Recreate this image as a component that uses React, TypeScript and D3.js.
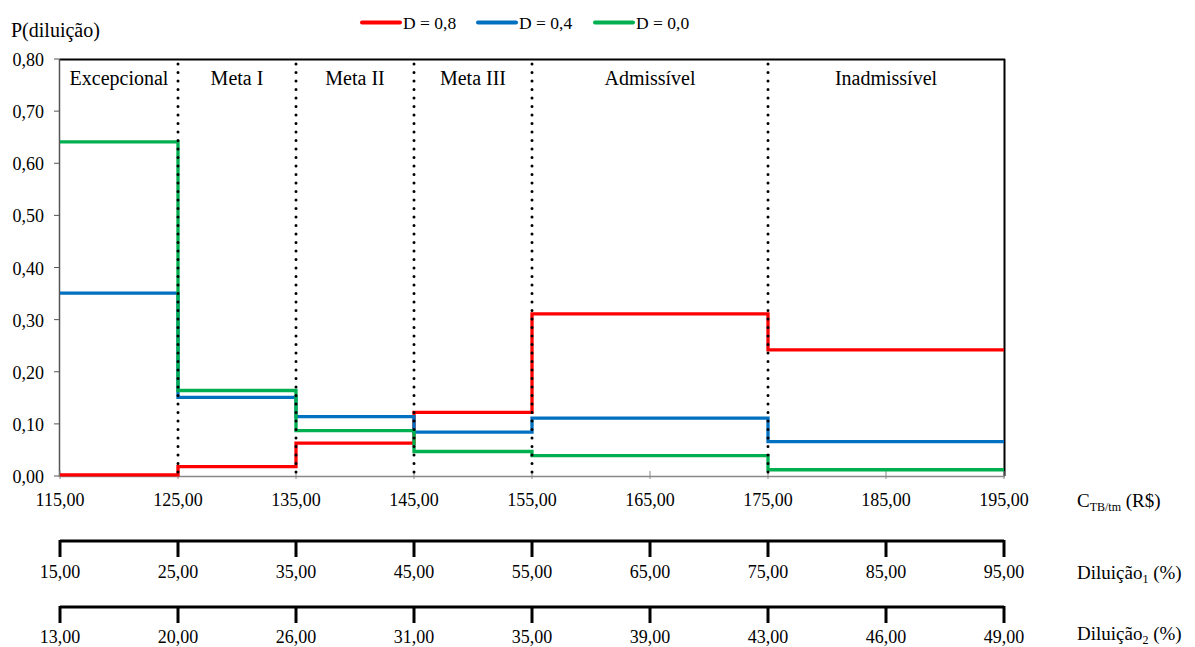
import React from "react";
import * as d3 from "d3";

const boundaries = [115, 125, 135, 145, 155, 175, 195];
const regions = ["Excepcional", "Meta I", "Meta II", "Meta III", "Admissível", "Inadmissível"];
const seriesNames = ["D = 0,8", "D = 0,4", "D = 0,0"];
const seriesColors = ["#FF0000", "#0070C0", "#00B050"];
const valuesD08 = [0.002, 0.018, 0.063, 0.122, 0.311, 0.242];
const valuesD04 = [0.351, 0.151, 0.114, 0.084, 0.111, 0.066];
const valuesD00 = [0.641, 0.164, 0.087, 0.047, 0.039, 0.012];
const xTicks = [115, 125, 135, 145, 155, 165, 175, 185, 195];
const yTicks = [0, 0.1, 0.2, 0.3, 0.4, 0.5, 0.6, 0.7, 0.8];
const dil1Labels = ["15,00", "25,00", "35,00", "45,00", "55,00", "65,00", "75,00", "85,00", "95,00"];
const dil2Labels = ["13,00", "20,00", "26,00", "31,00", "35,00", "39,00", "43,00", "46,00", "49,00"];
const dividers = [125, 135, 145, 155, 175];

const W = 1195;
const H = 647;
const font = '"Liberation Serif", "Times New Roman", serif';

export default function App() {
  const x = d3.scaleLinear().domain([115, 195]).range([60, 1004]);
  const y = d3.scaleLinear().domain([0, 0.8]).range([476, 59]);
  const fmt = (v: number) => v.toFixed(2).replace(".", ",");
  const allSeries = [valuesD08, valuesD04, valuesD00];
  const line = d3
    .line<[number, number]>()
    .x((d) => x(d[0]))
    .y((d) => y(d[1]))
    .curve(d3.curveStepAfter);
  const pathFor = (vals: number[]) => {
    const pts: [number, number][] = vals.map((v, i) => [boundaries[i], v]);
    pts.push([boundaries[boundaries.length - 1], vals[vals.length - 1]]);
    return line(pts) || "";
  };
  const legendX = [362, 478, 595];

  return (
    <svg width={W} height={H} style={{ position: "absolute", left: 0, top: 0, background: "#fff", fontFamily: font }}>
      {/* Y title */}
      <text x={11} y={37} fontSize={20}>P(diluição)</text>

      {/* Legend */}
      {seriesNames.map((n, i) => (
        <g key={n}>
          <line x1={legendX[i]} x2={legendX[i] + 38} y1={22.5} y2={22.5} stroke={seriesColors[i]} strokeWidth={4} strokeLinecap="round" />
          <text x={legendX[i] + 41} y={29} fontSize={17.5}>{n}</text>
        </g>
      ))}

      {/* frame top/right */}
      <line x1={60} x2={1005} y1={59.5} y2={59.5} stroke="#000" strokeWidth={2} />
      <line x1={1004.5} x2={1004.5} y1={59} y2={476} stroke="#000" strokeWidth={2} />

      {/* Y axis */}
      <line x1={59.5} x2={59.5} y1={59} y2={477} stroke="#555" strokeWidth={1.5} />
      {yTicks.map((t) => (
        <g key={t}>
          <line x1={54} x2={60} y1={y(t)} y2={y(t)} stroke="#555" strokeWidth={1} />
          <text x={44} y={y(t) + 7} fontSize={18} textAnchor="end">{fmt(t)}</text>
        </g>
      ))}

      {/* X axis */}
      <line x1={59} x2={1005} y1={476.5} y2={476.5} stroke="#888" strokeWidth={1.5} />
      {xTicks.map((t) => (
        <g key={t}>
          <line x1={x(t)} x2={x(t)} y1={471} y2={479} stroke="#888" strokeWidth={1} />
          <text x={x(t)} y={506} fontSize={18} textAnchor="middle">{fmt(t)}</text>
        </g>
      ))}
      <text x={1077} y={507} fontSize={19}>
        C<tspan fontSize={12} dy={4}>TB/tm</tspan>
        <tspan dy={-4}> (R$)</tspan>
      </text>

      {/* Region labels */}
      {regions.map((r, i) => (
        <text key={r} x={(x(boundaries[i]) + x(boundaries[i + 1])) / 2} y={85} fontSize={20} textAnchor="middle">{r}</text>
      ))}

      {/* Series */}
      {allSeries.map((vals, i) => (
        <path key={i} d={pathFor(vals)} fill="none" stroke={seriesColors[i]} strokeWidth={3.3} />
      ))}

      {/* Dotted dividers */}
      {dividers.map((d) => (
        <line key={d} x1={x(d)} x2={x(d)} y1={64} y2={476} stroke="#000" strokeWidth={3} strokeLinecap="round" strokeDasharray="0 8.5" />
      ))}

      {/* Diluição1 axis */}
      <line x1={60} x2={1004} y1={541} y2={541} stroke="#000" strokeWidth={3} />
      {xTicks.map((t, i) => (
        <g key={"d1" + t}>
          <line x1={x(t)} x2={x(t)} y1={540} y2={557} stroke="#000" strokeWidth={3} />
          <text x={x(t)} y={578} fontSize={18} textAnchor="middle">{dil1Labels[i]}</text>
        </g>
      ))}
      <text x={1077} y={579} fontSize={19}>
        Diluição<tspan fontSize={12} dy={4}>1</tspan>
        <tspan dy={-4}> (%)</tspan>
      </text>

      {/* Diluição2 axis */}
      <line x1={60} x2={1004} y1={607} y2={607} stroke="#000" strokeWidth={3} />
      {xTicks.map((t, i) => (
        <g key={"d2" + t}>
          <line x1={x(t)} x2={x(t)} y1={606} y2={623} stroke="#000" strokeWidth={3} />
          <text x={x(t)} y={643} fontSize={18} textAnchor="middle">{dil2Labels[i]}</text>
        </g>
      ))}
      <text x={1077} y={640} fontSize={19}>
        Diluição<tspan fontSize={12} dy={4}>2</tspan>
        <tspan dy={-4}> (%)</tspan>
      </text>
    </svg>
  );
}
